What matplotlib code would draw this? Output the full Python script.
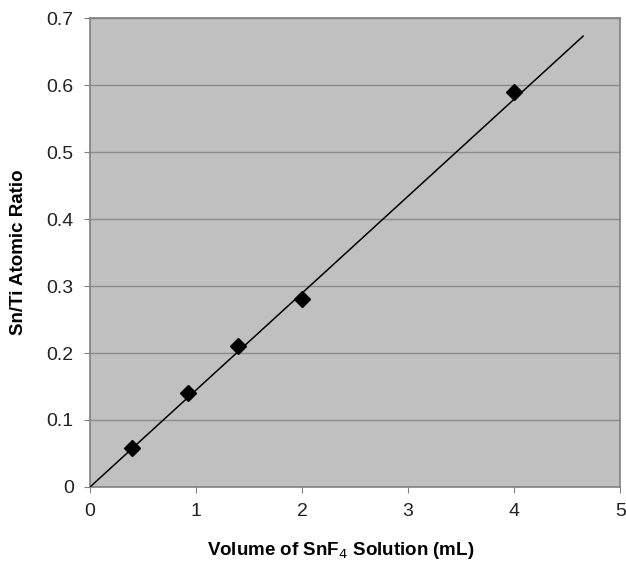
import matplotlib.pyplot as plt

plt.rcParams['font.family'] = ['Liberation Sans', 'DejaVu Sans']

# measured points
volume = [0.4, 0.92, 1.4, 2.0, 4.0]
ratio = [0.058, 0.14, 0.21, 0.28, 0.59]

# linear fit through origin
fit_x = [0.0, 4.65]
fit_y = [0.0, 0.673]

fig = plt.figure(figsize=(6.26, 5.63), dpi=100)
ax = fig.add_axes([0.1438, 0.135, 0.847, 0.833])
ax.set_facecolor('#c0c0c0')

ax.plot(fit_x, fit_y, color='black', lw=1.1, zorder=3)
ax.plot(volume, ratio, linestyle='none', marker='D', color='black', markersize=8.5, zorder=4)

ax.set_xlim(0, 5)
ax.set_ylim(0, 0.7)
ax.set_xticks([0, 1, 2, 3, 4, 5])
ax.set_yticks([0, 0.1, 0.2, 0.3, 0.4, 0.5, 0.6, 0.7])
ax.set_yticklabels(['0', '0.1', '0.2', '0.3', '0.4', '0.5', '0.6', '0.7'])
ax.yaxis.grid(True, color='#8c8c8c', lw=1)
ax.set_axisbelow(True)

for s in ax.spines.values():
    s.set_color('#808080')
    s.set_linewidth(1.2)
ax.tick_params(colors='#808080', labelcolor='#222222', labelsize=14, length=4.3, pad=7.5)

ax.set_xlabel('Volume of SnF$_4$ Solution (mL)', fontsize=13.5, fontweight='bold')
ax.xaxis.set_label_coords(0.472, -0.112)
ax.set_ylabel('Sn/Ti Atomic Ratio', fontsize=13.5, fontweight='bold', labelpad=14)

plt.savefig('out.png', dpi=100)
plt.close()
